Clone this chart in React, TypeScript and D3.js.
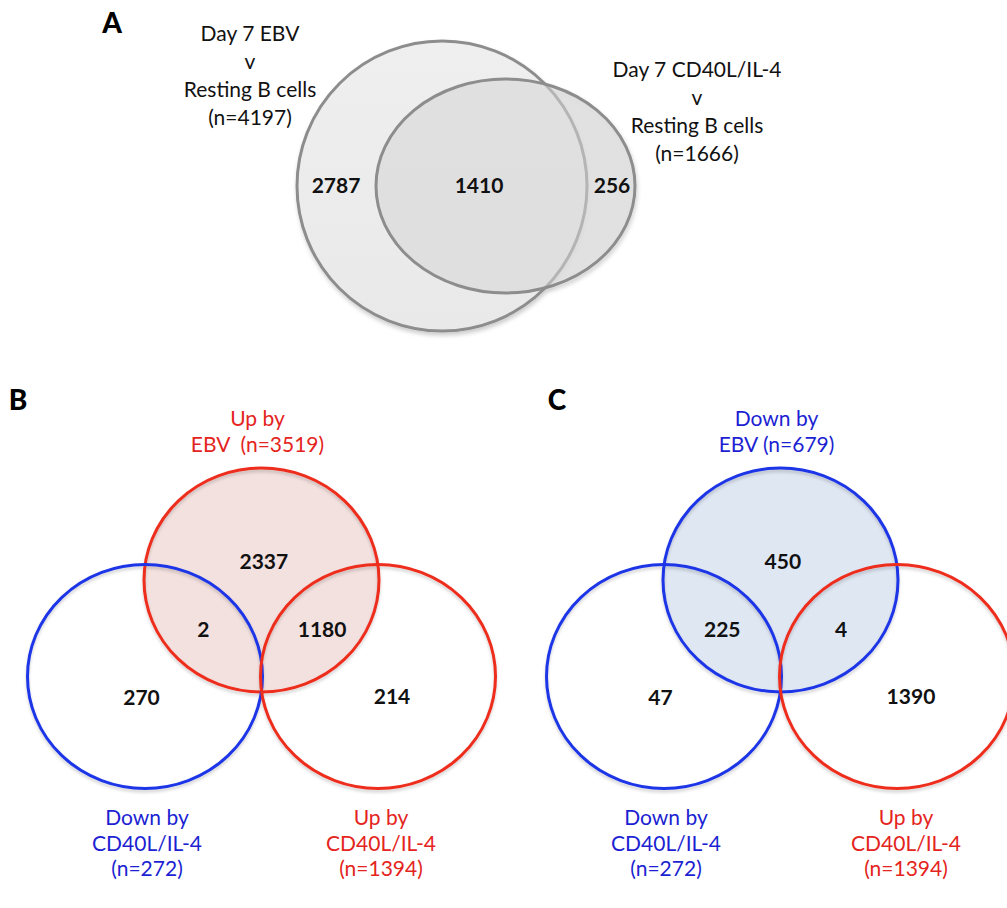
import React from "react";
import * as d3 from "d3";

// ---------- DATA ----------
// Panel A: two-set Venn (EBV only, shared, CD40L/IL-4 only)
const panelASetLabels: string[][] = [
  ["Day 7 EBV", "v", "Resting B cells", "(n=4197)"],
  ["Day 7 CD40L/IL-4", "v", "Resting B cells", "(n=1666)"],
];
const panelACounts: number[] = [2787, 1410, 256];

// Panels B and C: three-set Venns. Sets: top, bottom-left, bottom-right
const panelBSetLabels: string[][] = [
  ["Up by", "EBV  (n=3519)"],
  ["Down by", "CD40L/IL-4", "(n=272)"],
  ["Up by", "CD40L/IL-4", "(n=1394)"],
];
const panelBDirections: string[] = ["up", "down", "up"];
// regions: top only, top∩left, top∩right, left only, right only
const panelBCounts: number[] = [2337, 2, 1180, 270, 214];

const panelCSetLabels: string[][] = [
  ["Down by", "EBV (n=679)"],
  ["Down by", "CD40L/IL-4", "(n=272)"],
  ["Up by", "CD40L/IL-4", "(n=1394)"],
];
const panelCDirections: string[] = ["down", "down", "up"];
const panelCCounts: number[] = [450, 225, 4, 47, 1390];

const panelLetters: string[] = ["A", "B", "C"];

// ---------- STYLE / LAYOUT ----------
const W = 1007;
const H = 908;
const FONT = "Lato, 'Open Sans', sans-serif";
const dirColor = d3.scaleOrdinal<string, string>().domain(["up", "down"]).range(["#ee2d1f", "#1f36e6"]);
const dirText = d3.scaleOrdinal<string, string>().domain(["up", "down"]).range(["#e42420", "#1c1fd2"]);
const dirFill = d3.scaleOrdinal<string, string>().domain(["up", "down"]).range(["#f3e1df", "#dfe7f3"]);

// three-set layout in unit space (unit = centre spacing)
const venn3Circles = [
  { u: 0, v: 0 },
  { u: -1, v: 1 },
  { u: 1, v: 1 },
];
const venn3Regions = [
  { u: 0.02, v: -0.19 },
  { u: -0.5, v: 0.51 },
  { u: 0.52, v: 0.51 },
  { u: -1.03, v: 1.22 },
  { u: 1.12, v: 1.21 },
];

function Venn3({ originX, labels, dirs, counts, rightLabelShift }: any) {
  const originY = 580;
  const x = d3.scaleLinear().domain([0, 1]).range([originX, originX + 116.5]);
  const y = d3.scaleLinear().domain([0, 1]).range([originY, originY + 96.5]);
  const rx = 117.5;
  const ry = 112;
  return (
    <g>
      <ellipse cx={x(0)} cy={y(0)} rx={rx} ry={ry} fill={dirFill(dirs[0])} />
      <g filter="url(#shadow)">
        {venn3Circles.map((c, i) => (
          <ellipse key={i} cx={x(c.u)} cy={y(c.v)} rx={rx} ry={ry} fill="none"
            stroke={dirColor(dirs[i])} strokeWidth={3} />
        ))}
      </g>
      {venn3Regions.map((r, i) => (
        <text key={i} x={x(r.u)} y={y(r.v)} dy="0.36em" textAnchor="middle"
          fontFamily={FONT} fontWeight="bold" fontSize={21} fill="#111">{counts[i]}</text>
      ))}
      {labels[0].map((t: string, j: number) => (
        <text key={"t" + j} x={x(0) - 4} y={426 + j * 26} textAnchor="middle" fontFamily={FONT}
          fontSize={21} fill={dirText(dirs[0])} style={{ whiteSpace: "pre" }}>{t}</text>
      ))}
      {labels[1].map((t: string, j: number) => (
        <text key={"l" + j} x={x(-1) + 2} y={825 + j * 25.5} textAnchor="middle" fontFamily={FONT}
          fontSize={21} fill={dirText(dirs[1])}>{t}</text>
      ))}
      {labels[2].map((t: string, j: number) => (
        <text key={"r" + j} x={x(1) + rightLabelShift} y={825 + j * 25.5} textAnchor="middle" fontFamily={FONT}
          fontSize={21} fill={dirText(dirs[2])}>{t}</text>
      ))}
    </g>
  );
}

function VennA() {
  const big = { cx: 442, cy: 186, rx: 145, ry: 145 };
  const small = { cx: 505.5, cy: 186, rx: 129.5, ry: 107 };
  const regionX = [336, 479, 612];
  return (
    <g>
      <g filter="url(#shadowA)">
        <ellipse {...big} fill="url(#gradA)" stroke="#8d8d8d" strokeWidth={3} />
        <ellipse {...small} fill="#d6d6d6" fillOpacity={0.55} stroke="#8d8d8d" strokeWidth={3} />
      </g>
      {panelACounts.map((c, i) => (
        <text key={i} x={regionX[i]} y={193} textAnchor="middle" fontFamily={FONT}
          fontWeight="bold" fontSize={21} fill="#111">{c}</text>
      ))}
      {panelASetLabels[0].map((t, j) => (
        <text key={"a" + j} x={250} y={41 + j * 28} textAnchor="middle" fontFamily={FONT}
          fontSize={21} fill="#111">{t}</text>
      ))}
      {panelASetLabels[1].map((t, j) => (
        <text key={"b" + j} x={697} y={77 + j * 28} textAnchor="middle" fontFamily={FONT}
          fontSize={21} fill="#111">{t}</text>
      ))}
    </g>
  );
}

export default function App() {
  const letterPos = [
    { x: 112, y: 33 },
    { x: 18, y: 410 },
    { x: 557, y: 410 },
  ];
  return (
    <svg width={W} height={H} viewBox={`0 0 ${W} ${H}`}
      style={{ position: "absolute", left: 0, top: 0, background: "#fff" }}>
      <defs>
        <filter id="shadow" x="-10%" y="-10%" width="120%" height="125%">
          <feDropShadow dx="0" dy="2.5" stdDeviation="1.5" floodColor="#000" floodOpacity="0.18" />
        </filter>
        <filter id="shadowA" x="-10%" y="-10%" width="120%" height="125%">
          <feDropShadow dx="1" dy="3" stdDeviation="2" floodColor="#000" floodOpacity="0.2" />
        </filter>
        <linearGradient id="gradA" x1="0" y1="0" x2="0" y2="1">
          <stop offset="0" stopColor="#efefef" />
          <stop offset="1" stopColor="#e9e9e9" />
        </linearGradient>
      </defs>
      <rect width={W} height={H} fill="#fff" />
      <VennA />
      <Venn3 originX={261.5} labels={panelBSetLabels} dirs={panelBDirections} counts={panelBCounts} rightLabelShift={3} />
      <Venn3 originX={780.5} labels={panelCSetLabels} dirs={panelCDirections} counts={panelCCounts} rightLabelShift={9} />
      {panelLetters.map((l, i) => (
        <text key={l} x={letterPos[i].x} y={letterPos[i].y} textAnchor="middle" fontFamily={FONT}
          fontWeight={900} fontSize={28} fill="#000">{l}</text>
      ))}
    </svg>
  );
}
